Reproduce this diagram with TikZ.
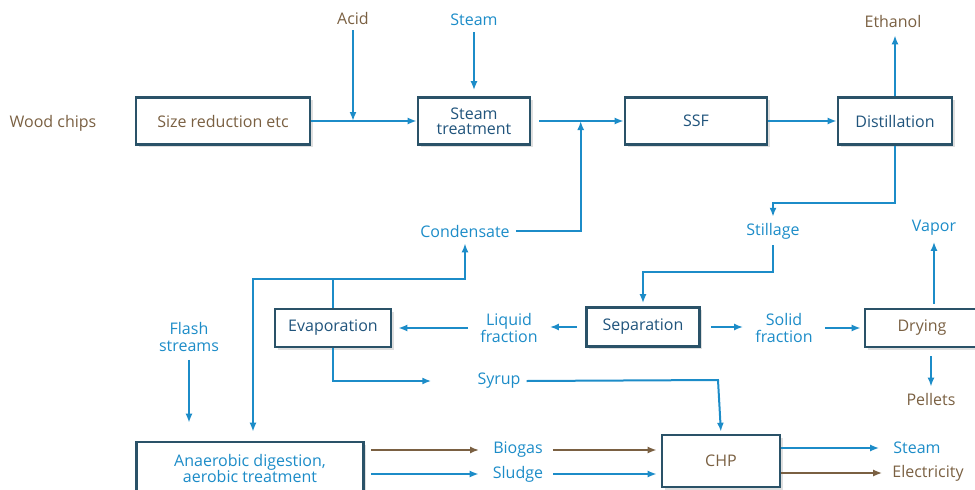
\documentclass[tikz,border=0pt]{standalone}
\usepackage{fontspec}
\setmainfont{Open Sans}
\usetikzlibrary{positioning,shadows,arrows.meta}
\definecolor{flowblue}{RGB}{28,140,200}
\definecolor{boxline}{RGB}{42,82,104}
\definecolor{woodbrown}{RGB}{122,96,66}
\definecolor{deepblue}{RGB}{32,84,124}

\begin{document}
\begin{tikzpicture}[x=1pt,y=-1pt,font=\fontsize{16}{19}\selectfont,
       flow/.style={draw=flowblue,line width=2pt,-{Latex[length=9pt,width=7pt]}},
       flow/.default=flowblue]

    \tikzstyle{block}=[draw=boxline,line width=2.6pt,fill=white,align=center,
        drop shadow={shadow xshift=2.5pt,shadow yshift=-2.5pt,opacity=0.25}]
    \tikzstyle{lbl}=[align=center,inner sep=6pt,text=flowblue]
    \tikzstyle{brownflow}=[flow,draw=woodbrown]

    \useasboundingbox (0,0) rectangle (975,490);

    % process blocks
    \node[block,minimum width=174pt,minimum height=47pt,text=woodbrown] (size) at (223,121) {Size reduction etc};
    \node[block,minimum width=112pt,minimum height=47pt,text=deepblue] (stmt) at (474,121) {Steam\\[-4pt]treatment};
    \node[block,minimum width=142pt,minimum height=47pt,text=deepblue] (ssf) at (696,121) {SSF};
    \node[block,minimum width=114pt,minimum height=47pt,text=deepblue] (dist) at (895,121) {Distillation};
    \node[block,minimum width=116pt,minimum height=38pt,text=deepblue] (evap) at (333,328) {Evaporation};
    \node[block,minimum width=113pt,minimum height=39pt,text=deepblue] (sep) at (643,327) {Separation};
    \node[block,minimum width=114pt,minimum height=38pt,text=woodbrown] (dry) at (922,328) {Drying};
    \node[block,minimum width=227pt,minimum height=52pt,text=flowblue] (anaer) at (250,468) {Anaerobic digestion,\\[-3pt]aerobic treatment};
    \node[block,minimum width=118pt,minimum height=52pt,text=woodbrown] (chp) at (721,461) {CHP};

    % streams
    \node[lbl,text=woodbrown] (wood) at (53,123) {Wood chips};
    \node[lbl,text=woodbrown] (acid) at (353,18) {Acid};
    \node[lbl] (steamin) at (474,20) {Steam};
    \node[lbl,text=woodbrown] (ethanol) at (893,21) {Ethanol};
    \node[lbl] (cond) at (465,231) {Condensate};
    \node[lbl] (still) at (773,231) {Stillage};
    \node[lbl] (vapor) at (934,228) {Vapor};
    \node[lbl] (liquid) at (509,328) {Liquid\\[-2pt]fraction};
    \node[lbl] (solid) at (784,328) {Solid\\[-2pt]fraction};
    \node[lbl] (flash) at (189,337) {Flash\\[-2pt]streams};
    \node[lbl] (syrup) at (499,381) {Syrup};
    \node[lbl,text=woodbrown] (pellets) at (931,399) {Pellets};
    \node[lbl] (biogas) at (518,450) {Biogas};
    \node[lbl] (sludge) at (518,474) {Sludge};
    \node[lbl] (steamout) at (917,448) {Steam};
    \node[lbl,text=woodbrown] (elec) at (928,473) {Electricity};

    \coordinate (cj) at (333,279);
    \coordinate (sj) at (718,380);

    % connectors
    \draw[flow] (size.east) -- (stmt.west);
    \draw[flow] (acid.south) -- (acid.south |- size.east);
    \draw[flow,shorten >=6pt] (steamin.south) -- (stmt.north);
    \draw[flow,shorten <=8pt] (stmt.east) -- (ssf.west);
    \draw[flow] (cond.east) -| ([xshift=-43pt]ssf.west);
    \draw[flow] (ssf.east) -- (dist.west);
    \draw[flow,shorten >=2pt] (dist.north) -- (dist.north |- ethanol.south);
    \draw[flow] (dist.south) -- ++(0,57) -| (still.north);
    \draw[flow,shorten >=3pt] (still.south) -- ++(0,27) -| (sep.north);
    \draw[flow,shorten <=8pt,shorten >=6pt] (sep.west) -- (liquid.east |- sep.west);
    \draw[flow,shorten <=6pt,shorten >=6pt] (liquid.west |- evap.east) -- (evap.east);
    \draw[flow] (evap.north) -- (cj) -| (cond.south);
    \draw[flow,shorten >=9pt] (cj) -| ([xshift=3pt]anaer.north);
    \draw[flow,shorten >=40pt] (evap.south) |- (syrup.west);
    \draw[flow,shorten >=2pt] (syrup.east) -- (sj) -- (chp.north);
    \draw[flow,shorten <=10pt,shorten >=6pt] (sep.east) -- (solid.west |- sep.east);
    \draw[flow,shorten <=6pt,shorten >=3pt] (solid.east |- dry.west) -- (dry.west);
    \draw[flow,shorten <=4pt] (vapor.south |- dry.north) -- (vapor.south);
    \draw[flow,shorten <=8pt] (pellets.north |- dry.south) -- (pellets.north);
    \draw[flow,shorten <=2pt,shorten >=18pt] (flash.south) -- (flash.south |- anaer.north);
    \draw[brownflow,shorten <=6pt,shorten >=8pt] (anaer.east |- biogas) -- (biogas.west);
    \draw[flow,shorten <=6pt,shorten >=8pt] (anaer.east |- sludge) -- (sludge.west);
    \draw[brownflow,shorten <=4pt,shorten >=4pt] (biogas.east) -- (chp.west |- biogas);
    \draw[flow,shorten <=4pt,shorten >=4pt] (sludge.east) -- (chp.west |- sludge);
    \draw[flow,shorten >=8pt] (chp.east |- steamout) -- (steamout.west);
    \draw[brownflow,shorten >=4pt] (chp.east |- elec) -- (elec.west);

\end{tikzpicture}
\end{document}
